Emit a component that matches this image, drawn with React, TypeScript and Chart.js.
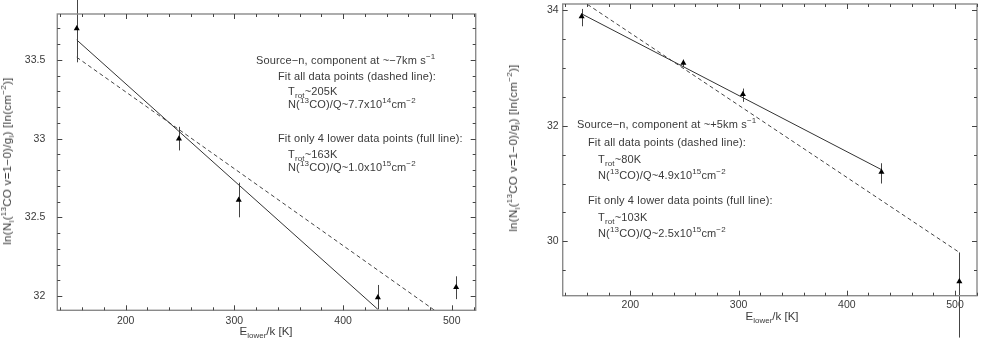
import React, { useEffect, useRef } from "react";
import { Chart, registerables } from "chart.js";
Chart.register(...registerables);

// ---------- data ----------
// energies E_lower/k [K]
const energies = [155, 249, 304, 432, 504];

// Panel A: Source-n, component at ~-7 km/s
const lnNA = [33.7, 33.0, 32.61, 31.99, 32.055];
const errUpA = [0.2, 0.075, 0.11, 0.08, 0.07];
const errDownA = [0.215, 0.075, 0.11, 0.075, 0.075];
const fullFitXA = [155, 432];
const fullFitYA = [33.627, 31.915];
const dashFitXA = [155, 485];
const dashFitYA = [33.517, 31.905];

// Panel B: Source-n, component at ~+5 km/s
const lnNB = [33.885, 33.08, 32.54, 31.2, 29.31];
const errUpB = [0.13, 0.06, 0.1, 0.15, 0.5];
const errDownB = [0.17, 0.07, 0.13, 0.2, 0.97];
const fullFitXB = [155, 432];
const fullFitYB = [33.93, 31.24];
const dashFitXB = [155, 504];
const dashFitYB = [34.16, 29.81];

// ticks
const xMajor = [200, 300, 400, 500];
const xMinor = [140, 160, 180, 220, 240, 260, 280, 320, 340, 360, 380, 420, 440, 460, 480, 520];
const yMajorA = [32, 32.5, 33, 33.5];
const yMinorA = [32.1, 32.2, 32.3, 32.4, 32.6, 32.7, 32.8, 32.9, 33.1, 33.2, 33.3, 33.4, 33.6, 33.7];
const yMajorB = [30, 32, 34];
const yMinorB = [29.5, 30.5, 31, 31.5, 32.5, 33, 33.5];

const FONT = "'Liberation Sans', Arial, sans-serif";
const TEXT = "#3a3a3a";

type PanelCfg = {
  left: number;
  width: number;
  xMin: number;
  xMax: number;
  yMin: number;
  yMax: number;
  yMajor: number[];
  yMinor: number[];
  lnN: number[];
  errUp: number[];
  errDown: number[];
  fullX: number[];
  fullY: number[];
  dashX: number[];
  dashY: number[];
  padTop: number;
  padRight: number;
  yAxisWidth: number;
  xAxisHeight: number;
  yTickPad: number;
  xTickPad: number;
};

function makeFramePlugin(cfg: PanelCfg) {
  return {
    id: "frameAndErrors",
    beforeDatasetsDraw(chart: any) {
      const ctx = chart.ctx;
      const xs = chart.scales.x;
      const ys = chart.scales.y;
      ctx.save();
      ctx.strokeStyle = "#444";
      ctx.lineWidth = 1;
      energies.forEach((e, i) => {
        const px = Math.round(xs.getPixelForValue(e)) + 0.5;
        const y1 = ys.getPixelForValue(cfg.lnN[i] + cfg.errUp[i]);
        const y2 = ys.getPixelForValue(cfg.lnN[i] - cfg.errDown[i]);
        ctx.beginPath();
        ctx.moveTo(px, y1);
        ctx.lineTo(px, y2);
        ctx.stroke();
      });
      ctx.restore();
    },
    afterDraw(chart: any) {
      const ctx = chart.ctx;
      const a = chart.chartArea;
      const xs = chart.scales.x;
      const ys = chart.scales.y;
      ctx.save();
      ctx.strokeStyle = "#8a8a8a";
      ctx.lineWidth = 1.4;
      ctx.strokeRect(a.left, a.top, a.right - a.left, a.bottom - a.top);
      ctx.strokeStyle = "#444";
      ctx.lineWidth = 1;
      const xt = (vals: number[], len: number) => {
        vals.forEach((v) => {
          const px = Math.round(xs.getPixelForValue(v)) + 0.5;
          ctx.beginPath();
          ctx.moveTo(px, a.bottom);
          ctx.lineTo(px, a.bottom - len);
          ctx.moveTo(px, a.top);
          ctx.lineTo(px, a.top + len);
          ctx.stroke();
        });
      };
      const yt = (vals: number[], len: number) => {
        vals.forEach((v) => {
          const py = Math.round(ys.getPixelForValue(v)) + 0.5;
          ctx.beginPath();
          ctx.moveTo(a.left, py);
          ctx.lineTo(a.left + len, py);
          ctx.moveTo(a.right, py);
          ctx.lineTo(a.right - len, py);
          ctx.stroke();
        });
      };
      xt(xMajor, 5);
      xt(xMinor, 3);
      yt(cfg.yMajor, 5);
      yt(cfg.yMinor, 3);
      ctx.restore();
    },
  };
}

function Panel({ cfg }: { cfg: PanelCfg }) {
  const ref = useRef<HTMLCanvasElement>(null);
  useEffect(() => {
    const pts = energies.map((e, i) => ({ x: e, y: cfg.lnN[i] }));
    const full = cfg.fullX.map((x, i) => ({ x, y: cfg.fullY[i] }));
    const dash = cfg.dashX.map((x, i) => ({ x, y: cfg.dashY[i] }));
    const chart = new Chart(ref.current!, {
      type: "scatter",
      data: {
        datasets: [
          {
            label: "data",
            data: pts,
            pointStyle: "triangle",
            pointRadius: 3.5,
            backgroundColor: "#000",
            borderColor: "#000",
            borderWidth: 0,
            showLine: false,
            clip: false as any,
          },
          {
            label: "fit 4 lower",
            data: full,
            showLine: true,
            pointRadius: 0,
            borderColor: "#333",
            borderWidth: 1,
          },
          {
            label: "fit all",
            data: dash,
            showLine: true,
            pointRadius: 0,
            borderColor: "#444",
            borderWidth: 1,
            borderDash: [4, 3],
          },
        ],
      },
      options: {
        responsive: false,
        animation: false,
        devicePixelRatio: 1,
        layout: { padding: { left: 0, right: cfg.padRight, top: cfg.padTop, bottom: 0 } },
        plugins: { legend: { display: false }, tooltip: { enabled: false } },
        events: [],
        scales: {
          x: {
            type: "linear",
            min: cfg.xMin,
            max: cfg.xMax,
            grid: { display: false, drawTicks: false },
            border: { display: false },
            ticks: {
              font: { family: FONT, size: 10.5 },
              color: TEXT,
              padding: cfg.xTickPad,
              maxRotation: 0,
              callback: (v: any) => String(v),
            },
            afterBuildTicks: (s: any) => {
              s.ticks = xMajor.map((v) => ({ value: v }));
            },
            afterFit: (s: any) => {
              s.height = cfg.xAxisHeight;
              s.paddingLeft = 0;
              s.paddingRight = 0;
            },
          },
          y: {
            type: "linear",
            min: cfg.yMin,
            max: cfg.yMax,
            grid: { display: false, drawTicks: false },
            border: { display: false },
            ticks: {
              font: { family: FONT, size: 10.5 },
              color: TEXT,
              padding: cfg.yTickPad,
              callback: (v: any) => String(v),
            },
            afterBuildTicks: (s: any) => {
              s.ticks = cfg.yMajor.map((v) => ({ value: v }));
            },
            afterFit: (s: any) => {
              s.width = cfg.yAxisWidth;
              s.paddingTop = 0;
              s.paddingBottom = 0;
            },
          },
        },
      },
      plugins: [makeFramePlugin(cfg)],
    });
    return () => chart.destroy();
  }, []);
  return (
    <canvas
      ref={ref}
      width={cfg.width}
      height={340}
      style={{ position: "absolute", left: cfg.left, top: 0, width: cfg.width, height: 340 }}
    />
  );
}

const panelA: PanelCfg = {
  left: 0,
  width: 490,
  xMin: 137.1,
  xMax: 522,
  yMin: 31.909,
  yMax: 33.792,
  yMajor: yMajorA,
  yMinor: yMinorA,
  lnN: lnNA,
  errUp: errUpA,
  errDown: errDownA,
  fullX: fullFitXA,
  fullY: fullFitYA,
  dashX: dashFitXA,
  dashY: dashFitYA,
  padTop: 14,
  padRight: 14.3,
  yAxisWidth: 57.3,
  xAxisHeight: 29.7,
  yTickPad: 12,
  xTickPad: 5,
};

const panelB: PanelCfg = {
  left: 490,
  width: 491,
  xMin: 137.5,
  xMax: 520.3,
  yMin: 29.063,
  yMax: 34.1,
  yMajor: yMajorB,
  yMinor: yMinorB,
  lnN: lnNB,
  errUp: errUpB,
  errDown: errDownB,
  fullX: fullFitXB,
  fullY: fullFitYB,
  dashX: dashFitXB,
  dashY: dashFitYB,
  padTop: 0,
  padRight: 1.7,
  yAxisWidth: 72.7,
  xAxisHeight: 44.3,
  yTickPad: 4,
  xTickPad: 3,
};

const supStyle: React.CSSProperties = { fontSize: "8px", position: "relative", top: "-5px" };
const subStyle: React.CSSProperties = { fontSize: "8px", position: "relative", top: "3px" };
const Sup = ({ t }: { t: string }) => <span style={supStyle}>{t}</span>;
const Sub = ({ t }: { t: string }) => <span style={subStyle}>{t}</span>;

const Line = ({ x, y, children }: { x: number; y: number; children: React.ReactNode }) => (
  <div
    style={{
      position: "absolute",
      left: x,
      top: y - 7,
      lineHeight: "14px",
      height: 14,
      whiteSpace: "nowrap",
      fontFamily: FONT,
      fontSize: 11,
      letterSpacing: "0.15px",
      color: TEXT,
    }}
  >
    {children}
  </div>
);

const YTitle = ({ cx, cy }: { cx: number; cy: number }) => (
  <div
    style={{
      position: "absolute",
      left: cx,
      top: cy,
      transform: "translate(-50%, -50%) rotate(-90deg)",
      whiteSpace: "nowrap",
      fontFamily: FONT,
      fontSize: 11.5,
      letterSpacing: "0.3px",
      lineHeight: "14px",
      color: TEXT,
    }}
  >
    ln(N<Sub t="l" />(<Sup t="13" />CO v=1−0)/g<Sub t="l" />) [ln(cm<Sup t="−2" />)]
  </div>
);

const XTitle = ({ cx, cy }: { cx: number; cy: number }) => (
  <div
    style={{
      position: "absolute",
      left: cx,
      top: cy,
      transform: "translate(-50%, -50%)",
      whiteSpace: "nowrap",
      fontFamily: FONT,
      fontSize: 11.5,
      lineHeight: "14px",
      color: TEXT,
    }}
  >
    E<Sub t="lower" />/k [K]
  </div>
);

function Annotations({
  x0,
  dx1,
  dx2,
  ys,
  vel,
  trotAll,
  nAll,
  expAll,
  trotFour,
  nFour,
  expFour,
}: {
  x0: number;
  dx1: number;
  dx2: number;
  ys: number[];
  vel: string;
  trotAll: string;
  nAll: string;
  expAll: string;
  trotFour: string;
  nFour: string;
  expFour: string;
}) {
  return (
    <>
      <Line x={x0} y={ys[0]}>
        Source−n, component at ~{vel}km s<Sup t="−1" />
      </Line>
      <Line x={x0 + dx1} y={ys[1]}>
        Fit all data points (dashed line):
      </Line>
      <Line x={x0 + dx2} y={ys[2]}>
        T<Sub t="rot" />~{trotAll}K
      </Line>
      <Line x={x0 + dx2} y={ys[3]}>
        N(<Sup t="13" />CO)/Q~{nAll}x10<Sup t={expAll} />cm<Sup t="−2" />
      </Line>
      <Line x={x0 + dx1} y={ys[4]}>
        Fit only 4 lower data points (full line):
      </Line>
      <Line x={x0 + dx2} y={ys[5]}>
        T<Sub t="rot" />~{trotFour}K
      </Line>
      <Line x={x0 + dx2} y={ys[6]}>
        N(<Sup t="13" />CO)/Q~{nFour}x10<Sup t={expFour} />cm<Sup t="−2" />
      </Line>
    </>
  );
}

export default function App() {
  return (
    <div
      style={{
        position: "fixed",
        left: 0,
        top: 0,
        width: 981,
        height: 340,
        background: "#fff",
        overflow: "hidden",
      }}
    >
      <Panel cfg={panelA} />
      <Panel cfg={panelB} />
      <YTitle cx={8} cy={161} />
      <YTitle cx={514} cy={148} />
      <XTitle cx={266} cy={332} />
      <XTitle cx={772} cy={317} />
      <Annotations
        x0={256}
        dx1={22}
        dx2={32}
        ys={[60, 76, 91, 104, 138, 154, 167]}
        vel="−7"
        trotAll="205"
        nAll="7.7"
        expAll="14"
        trotFour="163"
        nFour="1.0"
        expFour="15"
      />
      <Annotations
        x0={577}
        dx1={11}
        dx2={21}
        ys={[124, 142, 159, 175, 200, 217, 233]}
        vel="+5"
        trotAll="80"
        nAll="4.9"
        expAll="15"
        trotFour="103"
        nFour="2.5"
        expFour="15"
      />
    </div>
  );
}
